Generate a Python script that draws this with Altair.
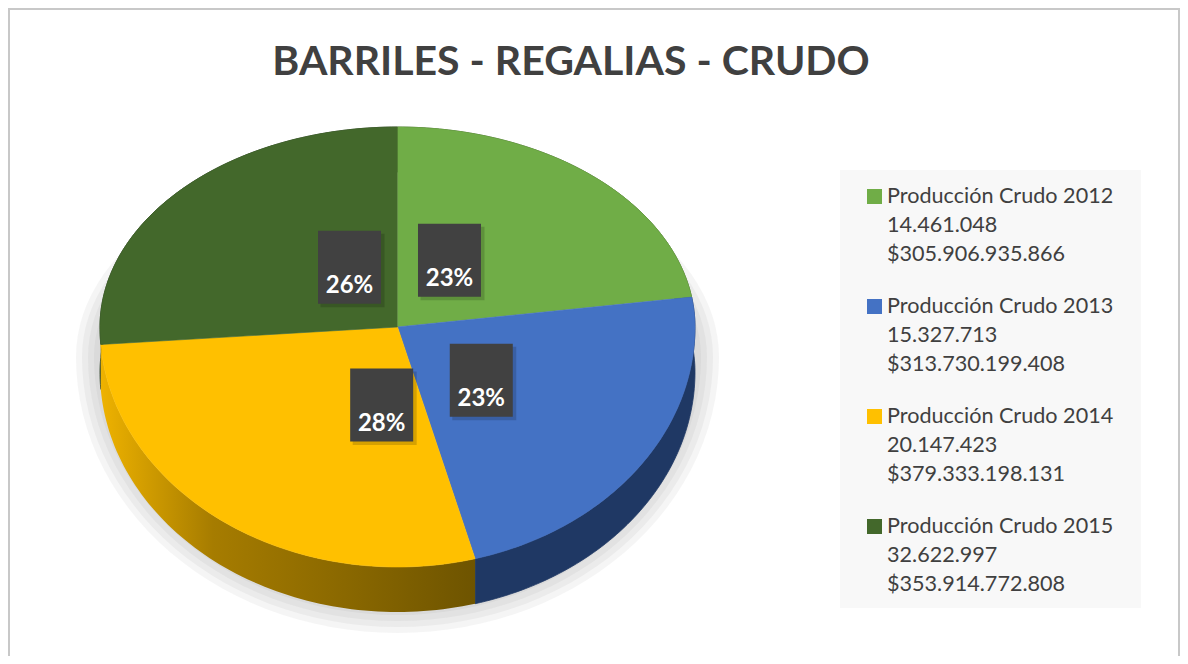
import altair as alt
import pandas as pd

# ---------------- data ----------------
series = ["Producción Crudo 2012", "Producción Crudo 2013",
          "Producción Crudo 2014", "Producción Crudo 2015"]
barriles = [14461048, 15327713, 20147423, 32622997]
regalias = [305906935866, 313730199408, 379333198131, 353914772808]
title_text = "BARRILES - REGALIAS - CRUDO"

# ---------------- styles ----------------
top_colors = ["#70AD47", "#4472C4", "#FFC000", "#43682B"]
side_colors = ["#3A5C25", "#1F3864", "#7F6000", "#22361A"]
TXT = "#404040"
FONT = "Lato"

# ---------------- layout (page pixels) ----------------
W, H = 1172, 648
CX, CY = 397.5, 327.0
RX = 297.5
RY_BACK, RY_FRONT = 200.0, 240.0
DEPTH = 45.0
N = 80


def miles(v):
    return f"{v:,}".replace(",", ".")


df = pd.DataFrame({
    "serie": series,
    "orden": list(range(len(series))),
    "barriles": barriles,
    "regalias": regalias,
    "barriles_txt": [miles(v) for v in barriles],
    "regalias_txt": ["$" + miles(v) for v in regalias],
})

XS = alt.Scale(domain=[8, 8 + W], nice=False, zero=False)
YS = alt.Scale(domain=[8 + H, 8], nice=False, zero=False)
xe = lambda f: alt.X(f, type="quantitative", scale=XS, axis=None)
ye = lambda f: alt.Y(f, type="quantitative", scale=YS, axis=None)


def ry(expr):
    return f"(cos({expr}) > 0 ? {RY_BACK} : {RY_FRONT})"


base = (
    alt.Chart(df)
    .transform_window(cum="sum(regalias)", sort=[alt.SortField("orden")], frame=[None, 0])
    .transform_joinaggregate(total="sum(regalias)")
    .transform_calculate(
        a1="2*PI*datum.cum/datum.total",
        a0="2*PI*(datum.cum - datum.regalias)/datum.total",
        share="datum.regalias/datum.total",
    )
)

# ---- soft shadow under the pie ----
shadow_layers = []
for e in [24, 18, 12, 6]:
    sh = (
        alt.Chart(alt.SequenceGenerator(sequence=alt.SequenceParams(start=0, stop=121, **{"as": "i"})))
        .transform_calculate(
            t="2*PI*datum.i/120",
            px=f"{CX} + {RX + e}*sin(datum.t)",
            py=f"{CY + 30} - (cos(datum.t) > 0 ? {RY_BACK - 20 + e} : {RY_FRONT + 12 + e})*cos(datum.t)",
        )
        .mark_line(fill="#7f7f7f", fillOpacity=0.075, strokeWidth=0)
        .encode(x=xe("px"), y=ye("py"), order="i:Q")
    )
    shadow_layers.append(sh)

# ---- side walls ----
side = (
    base.transform_calculate(i=f"sequence(0, {2 * N + 2})")
    .transform_flatten(["i"])
    .transform_calculate(
        j=f"datum.i <= {N} ? datum.i : {2 * N + 1} - datum.i",
    )
    .transform_calculate(
        t=f"datum.a0 + (datum.a1 - datum.a0)*datum.j/{N}",
    )
    .transform_calculate(
        px=f"{CX} + {RX}*sin(datum.t)",
        py=f"{CY} - {ry('datum.t')}*cos(datum.t) + (datum.i > {N} ? {DEPTH} : 0)",
    )
)
side_plain = side.transform_filter("datum.orden != 2").mark_line(strokeWidth=0.8).encode(
    x=xe("px"), y=ye("py"), order="i:Q", detail="serie:N",
    fill=alt.Fill("serie:N", scale=alt.Scale(domain=series, range=side_colors), legend=None),
    stroke=alt.Stroke("serie:N", scale=alt.Scale(domain=series, range=side_colors), legend=None),
)
side_yellow = side.transform_filter("datum.orden == 2").mark_line(
    strokeWidth=0,
    fill=alt.Gradient(gradient="linear", x1=0, y1=0, x2=1, y2=0,
                      stops=[alt.GradientStop(offset=0, color="#EEB200"),
                             alt.GradientStop(offset=0.3, color="#A67C00"),
                             alt.GradientStop(offset=1, color="#6E5400")]),
).encode(x=xe("px"), y=ye("py"), order="i:Q", detail="serie:N")

# ---- top faces ----
top = (
    base.transform_calculate(i=f"sequence(0, {N + 2})")
    .transform_flatten(["i"])
    .transform_calculate(t=f"datum.a0 + (datum.a1 - datum.a0)*max(datum.i - 1, 0)/{N}")
    .transform_calculate(
        px=f"datum.i == 0 ? {CX} : {CX} + {RX}*sin(datum.t)",
        py=f"datum.i == 0 ? {CY} : {CY} - {ry('datum.t')}*cos(datum.t)",
    )
    .mark_line(strokeWidth=0.6)
    .encode(
        x=xe("px"), y=ye("py"), order="i:Q", detail="serie:N",
        fill=alt.Fill("serie:N", scale=alt.Scale(domain=series, range=top_colors), legend=None),
        stroke=alt.Stroke("serie:N", scale=alt.Scale(domain=series, range=top_colors), legend=None),
    )
)

# ---- percentage labels ----
lab = base.transform_calculate(
    mid="(datum.a0 + datum.a1)/2",
).transform_calculate(
    lx=f"{CX} + 15 + 73*sin(datum.mid) - 14*cos(datum.mid)",
    ly=f"{CY} + 3 - 92*cos(datum.mid)",
).transform_calculate(
    bx0="datum.lx - 31.5", bx1="datum.lx + 31.5",
    by0="datum.ly - 36.5", by1="datum.ly + 36.5",
    sx0="datum.lx - 29", sx1="datum.lx + 35",
    sy0="datum.ly - 33.5", sy1="datum.ly + 40",
    ty="datum.ly + 26",
    pct="format(datum.share, '.0%')",
)
lab_shadow = lab.mark_rect(color="#000000", opacity=0.16).encode(
    x=xe("sx0"), x2="sx1", y=ye("sy0"), y2="sy1")
lab_box = lab.mark_rect(color="#414141").encode(
    x=xe("bx0"), x2="bx1", y=ye("by0"), y2="by1")
lab_text = lab.mark_text(font=FONT, fontSize=24, fontWeight="bold", color="white",
                         align="center", baseline="alphabetic").encode(
    x=xe("lx"), y=ye("ty"), text="pct:N")

# ---- legend ----
LEG_X0, LEG_X1, LEG_Y0, LEG_Y1 = 840, 1141, 170, 608
leg_bg = alt.Chart(pd.DataFrame({"x0": [LEG_X0], "x1": [LEG_X1], "y0": [LEG_Y0], "y1": [LEG_Y1]})).mark_rect(
    color="#F8F8F8").encode(x=xe("x0"), x2="x1", y=ye("y0"), y2="y1")

leg_sq = base.transform_calculate(
    qx0="867", qx1="882",
    qy0="189 + datum.orden*110", qy1="204 + datum.orden*110",
).mark_rect().encode(
    x=xe("qx0"), x2="qx1", y=ye("qy0"), y2="qy1",
    fill=alt.Fill("serie:N", scale=alt.Scale(domain=series, range=top_colors), legend=None),
)

leg_txt = base.transform_calculate(
    lines="[datum.serie, datum.barriles_txt, datum.regalias_txt]",
    k="[0, 1, 2]",
).transform_flatten(["lines", "k"]).transform_calculate(
    tx="887", tyy="203 + datum.orden*110 + datum.k*29",
).mark_text(font=FONT, fontSize=21.6, color=TXT, align="left", baseline="alphabetic").encode(
    x=xe("tx"), y=ye("tyy"), text="lines:N")

# ---- title ----
title = alt.Chart(pd.DataFrame({"t": [title_text], "x": [571], "y": [75]})).mark_text(
    font=FONT, fontSize=41, fontWeight="bold", color=TXT, align="center", baseline="alphabetic"
).encode(x=xe("x"), y=ye("y"), text="t:N")

# ---- frame ----
frame = alt.Chart(pd.DataFrame({"x0": [9], "x1": [1179], "y0": [9], "y1": [720]})).mark_rect(
    fill=None, fillOpacity=0, stroke="#C8C8C8", strokeWidth=2).encode(
    x=xe("x0"), x2="x1", y=ye("y0"), y2="y1")

chart = alt.layer(
    *shadow_layers, side_plain, side_yellow, top,
    lab_shadow, lab_box, lab_text,
    leg_bg, leg_sq, leg_txt, title, frame,
).resolve_scale(fill="independent", stroke="independent").properties(
    width=W, height=H, padding=0,
    autosize=alt.AutoSizeParams(type="none"),
    background="white",
).configure_view(stroke=None)

chart.save("out.html", embed_options={"renderer": "svg", "actions": False})
